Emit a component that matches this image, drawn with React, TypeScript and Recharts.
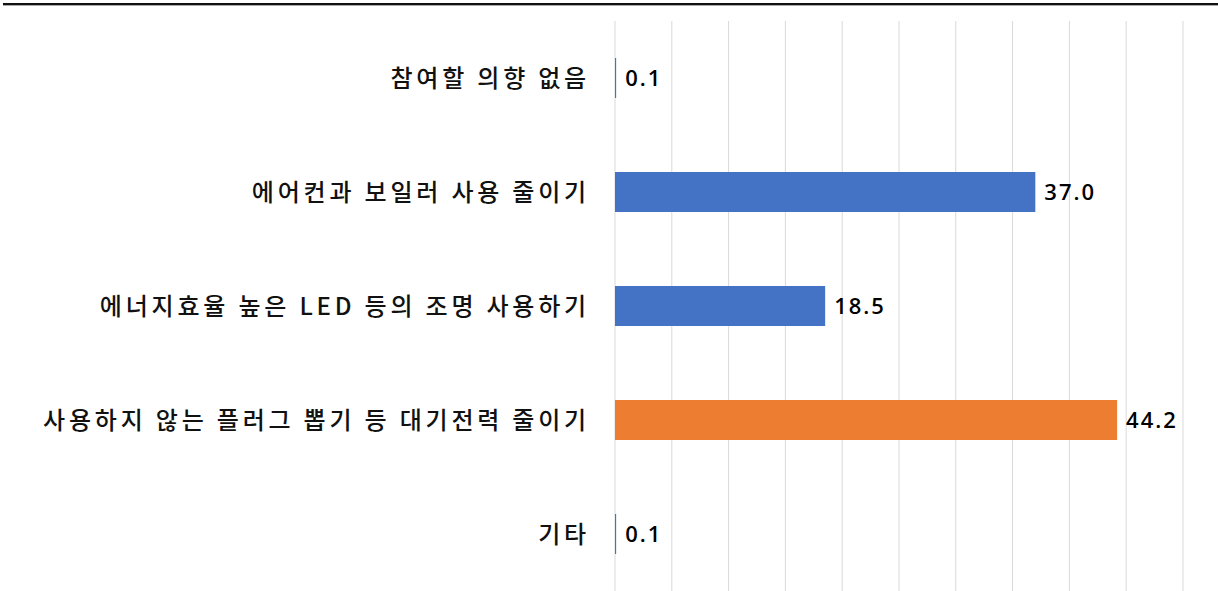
import React from 'react';
import { BarChart, Bar, XAxis, YAxis, CartesianGrid, LabelList, Cell } from 'recharts';

const categories = [
  '참여할 의향 없음',
  '에어컨과 보일러 사용 줄이기',
  '에너지효율 높은 LED 등의 조명 사용하기',
  '사용하지 않는 플러그 뽑기 등 대기전력 줄이기',
  '기타',
];
const values = [0.1, 37.0, 18.5, 44.2, 0.1];
const highlight = [false, false, false, true, false];
const xTicks = [0, 5, 10, 15, 20, 25, 30, 35, 40, 45, 50];

const data = categories.map((name, i) => ({ name, value: values[i], hi: highlight[i] }));

const BLUE = '#4472C4';
const ORANGE = '#ED7D31';

const App: React.FC = () => {
  return (
    <div style={{ position: 'absolute', left: 0, top: 0, width: 1218, height: 591, background: '#fff' }}>
      {/* double rule along the top */}
      <div style={{ position: 'absolute', left: 3, top: 3, width: 1215, height: 2, background: '#111', borderBottom: '1px solid #aaa' }} />
      <BarChart
        width={1218}
        height={591}
        data={data}
        layout="vertical"
        margin={{ top: 21, right: 35, bottom: 0, left: 0 }}
        barCategoryGap={37}
      >
        <CartesianGrid horizontal={false} stroke="#d9d9d9" />
        <XAxis type="number" domain={[0, 50]} ticks={xTicks} hide />
        <YAxis
          type="category"
          dataKey="name"
          width={615}
          axisLine={false}
          tickLine={false}
          tickSize={0}
          tickMargin={25}
          tick={{
            fill: '#111',
            fontSize: 24,
            fontWeight: 500,
            letterSpacing: 3.8,
            fontFamily: '"Noto Sans CJK KR", sans-serif',
          }}
        />
        <Bar dataKey="value" isAnimationActive={false}>
          {data.map((d, i) => (
            <Cell key={`c-${i}`} fill={d.hi ? ORANGE : BLUE} />
          ))}
          <LabelList
            dataKey="value"
            position="right"
            offset={9}
            formatter={(v: number) => v.toFixed(1)}
            style={{ fill: '#000', fontSize: 22, fontWeight: 600, letterSpacing: 2, fontFamily: '"Open Sans", sans-serif' }}
          />
        </Bar>
      </BarChart>
    </div>
  );
};

export default App;
